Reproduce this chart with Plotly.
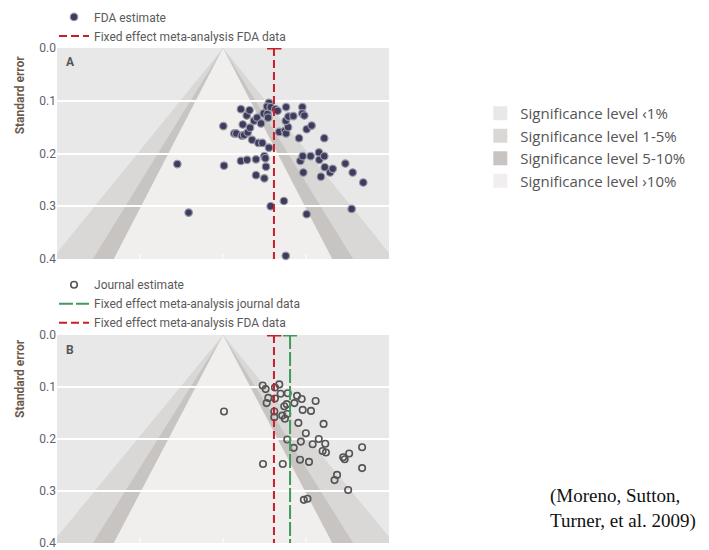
import plotly.graph_objects as go

# ---- Panel A: FDA estimates (effect size, standard error) ----
fda_effect = [-0.275, -0.207, 0.002, 0.006, 0.108, 0.119, 0.068, 0.080, 0.113, 0.127,
              0.149, 0.163, 0.143, 0.160, 0.187, 0.205, 0.229, 0.245, 0.268, 0.272,
              0.277, 0.265, 0.287, 0.315, 0.329, 0.175, 0.213, 0.237, 0.277, 0.108,
              0.145, 0.199, 0.249, 0.255, 0.259, 0.199, 0.249, 0.287, 0.367, 0.378,
              0.384, 0.339, 0.373, 0.380, 0.392, 0.378, 0.394, 0.424, 0.380, 0.478,
              0.478, 0.490, 0.458, 0.504, 0.534, 0.466, 0.480, 0.528, 0.484, 0.504,
              0.578, 0.580, 0.610, 0.610, 0.613, 0.590, 0.645, 0.661, 0.737, 0.781,
              0.845, 0.775]
fda_se = [0.220, 0.312, 0.148, 0.223, 0.116, 0.145, 0.162, 0.162, 0.166, 0.165,
          0.160, 0.151, 0.128, 0.118, 0.138, 0.132, 0.143, 0.124, 0.125, 0.132,
          0.104, 0.111, 0.112, 0.116, 0.119, 0.174, 0.180, 0.180, 0.189, 0.214,
          0.212, 0.211, 0.205, 0.209, 0.225, 0.241, 0.247, 0.300, 0.290, 0.394,
          0.403, 0.159, 0.157, 0.162, 0.150, 0.138, 0.130, 0.129, 0.112, 0.112,
          0.124, 0.128, 0.171, 0.154, 0.147, 0.214, 0.205, 0.205, 0.236, 0.315,
          0.198, 0.212, 0.205, 0.171, 0.226, 0.244, 0.236, 0.229, 0.219, 0.236,
          0.255, 0.305]

# ---- Panel B: journal estimates ----
jour_effect = [0.006, 0.239, 0.257, 0.263, 0.273, 0.313, 0.339, 0.313, 0.347, 0.390,
               0.309, 0.309, 0.357, 0.373, 0.369, 0.384, 0.387, 0.430, 0.446, 0.474,
               0.480, 0.530, 0.558, 0.454, 0.606, 0.387, 0.499, 0.469, 0.426, 0.540,
               0.577, 0.616, 0.600, 0.620, 0.241, 0.360, 0.464, 0.518, 0.724, 0.733,
               0.760, 0.838, 0.838, 0.687, 0.672, 0.754, 0.487, 0.509]
jour_se = [0.147, 0.097, 0.104, 0.131, 0.121, 0.101, 0.095, 0.122, 0.113, 0.112,
           0.147, 0.158, 0.155, 0.161, 0.137, 0.133, 0.152, 0.131, 0.117, 0.123,
           0.144, 0.146, 0.127, 0.169, 0.171, 0.201, 0.189, 0.205, 0.217, 0.210,
           0.200, 0.209, 0.223, 0.226, 0.248, 0.248, 0.240, 0.244, 0.235, 0.239,
           0.228, 0.216, 0.256, 0.269, 0.279, 0.298, 0.317, 0.315]

# ---- Fixed effect meta-analysis estimates with confidence limits ----
fe_fda = [0.307, 0.265, 0.352]      # estimate, lower, upper
fe_journal = [0.404, 0.361, 0.446]

# ---- Significance contours (two-sided z critical values) ----
sig_labels = ["Significance level \u20391%", "Significance level 1-5%",
              "Significance level 5-10%", "Significance level \u203a10%"]
sig_colors = ["#e9e8e8", "#dad8d7", "#c8c4c2", "#f0efee"]
z_crit = [2.576, 1.960, 1.645]
se_axis = [0.0, 0.1, 0.2, 0.3, 0.4]
se_extent = 0.46

RED = "#c81e2b"
GREEN = "#3f9a5c"
TXT = "#5a5a5a"
FONT = "Roboto"

fig = go.Figure()

panels = [("x", "y"), ("x2", "y2")]

# contour-enhanced funnel bands, painted from widest to narrowest
for xr, yr in panels:
    for z, col in zip(z_crit, sig_colors[1:]):
        half = z * se_extent
        fig.add_shape(type="path", xref=xr, yref=yr, layer="below",
                      path=f"M 0,0 L {-half},{se_extent} L {half},{se_extent} Z",
                      fillcolor=col, line=dict(width=0))

# Panel A points
fig.add_trace(go.Scatter(
    x=fda_effect, y=fda_se, mode="markers", name="FDA estimate",
    marker=dict(symbol="circle", size=7.5, color="#3d3b5e",
                line=dict(width=1.2, color="#9898a6")),
    xaxis="x", yaxis="y", legend="legend", cliponaxis=False))


def fe_traces(est, name, color, dash, xa, ya, legend, show):
    fig.add_trace(go.Scatter(
        x=[est[0], est[0]], y=[se_axis[0], se_axis[-1]], mode="lines", name=name,
        line=dict(color=color, width=2, dash=dash),
        xaxis=xa, yaxis=ya, legend=legend, showlegend=show, cliponaxis=False))
    fig.add_trace(go.Scatter(
        x=[est[1], est[2]], y=[se_axis[0], se_axis[0]], mode="lines",
        line=dict(color=color, width=3), hoverinfo="skip",
        xaxis=xa, yaxis=ya, showlegend=False, cliponaxis=False))


fe_traces(fe_fda, "Fixed effect meta-analysis FDA data", RED, "8px,4px",
          "x", "y", "legend", True)

# Panel B points
fig.add_trace(go.Scatter(
    x=jour_effect, y=jour_se, mode="markers", name="Journal estimate",
    marker=dict(symbol="circle-open", size=6.5, color="#555555",
                line=dict(width=1.6, color="#555555")),
    xaxis="x2", yaxis="y2", legend="legend2", cliponaxis=False))

fe_traces(fe_journal, "Fixed effect meta-analysis journal data", GREEN, "14px,3px",
          "x2", "y2", "legend2", True)
fe_traces(fe_fda, "Fixed effect meta-analysis FDA data", RED, "8px,4px",
          "x2", "y2", "legend2", True)

# significance legend swatches
for lab, col in zip(sig_labels, sig_colors):
    fig.add_trace(go.Scatter(
        x=[None], y=[None], mode="markers", name=lab,
        marker=dict(symbol="square", size=14, color=col, line=dict(width=0)),
        xaxis="x", yaxis="y", legend="legend3"))

axis_x = dict(range=[-1, 1], showgrid=False, zeroline=False, showticklabels=False,
              tickvals=[-0.5, 0, 0.5], ticks="inside", ticklen=5, tickwidth=1.5,
              tickcolor="#f7f7f7", showline=False, fixedrange=True)
axis_y = dict(range=[se_axis[-1], se_axis[0]], tickvals=se_axis, tickformat=".1f",
              showgrid=True, gridcolor="#ffffff", gridwidth=1.5, zeroline=False,
              tickfont=dict(family=FONT, size=12, color="#5e6171"),
              ticklabeloverflow="allow",
              ticks="", showline=False, fixedrange=True)

leg_font = dict(family=FONT, size=12, color=TXT)
title_font = dict(family=FONT, size=12, color="#6b5a4c")
letter_font = dict(family=FONT, size=12, color="#555555")

fig.update_layout(
    width=709, height=550,
    margin=dict(l=57, r=320, t=48, b=7, autoexpand=False),
    paper_bgcolor="#ffffff", plot_bgcolor=sig_colors[0],
    xaxis=dict(axis_x, domain=[0, 1], anchor="y"),
    yaxis=dict(axis_y, domain=[0.5737, 1.0], anchor="x"),
    xaxis2=dict(axis_x, domain=[0, 1], anchor="y2"),
    yaxis2=dict(axis_y, domain=[0.0, 0.4202], anchor="x2"),
    legend=dict(x=-0.009, y=1.092, xanchor="left", yanchor="top", font=leg_font,
                bgcolor="rgba(0,0,0,0)", tracegroupgap=0, itemwidth=30),
    legend2=dict(x=-0.009, y=0.551, xanchor="left", yanchor="top", font=leg_font,
                 bgcolor="rgba(0,0,0,0)", tracegroupgap=0, itemwidth=30),
    legend3=dict(x=1.275, y=0.901, xanchor="left", yanchor="top",
                 font=dict(family="Open Sans", size=15, color="#555555"),
                 bgcolor="rgba(0,0,0,0)", tracegroupgap=0, itemwidth=30),
    showlegend=True,
    annotations=[
        dict(text="<b>Standard error</b>", textangle=-90, xref="paper", yref="paper",
             x=-0.112, y=0.906, xanchor="center", yanchor="middle",
             showarrow=False, font=title_font),
        dict(text="<b>Standard error</b>", textangle=-90, xref="paper", yref="paper",
             x=-0.112, y=0.333, xanchor="center", yanchor="middle",
             showarrow=False, font=title_font),
        dict(text="<b>A</b>", xref="paper", yref="paper", x=0.02, y=0.9717,
             xanchor="left", yanchor="middle", showarrow=False, font=letter_font),
        dict(text="<b>B</b>", xref="paper", yref="paper", x=0.02, y=0.3899,
             xanchor="left", yanchor="middle", showarrow=False, font=letter_font),
        dict(text="(Moreno, Sutton,<br>Turner, et al. 2009)", xref="paper", yref="paper",
             x=1.479, y=0.122, xanchor="left", yanchor="top", align="left",
             showarrow=False,
             font=dict(family="Liberation Serif", size=19, color="#111111")),
    ],
)

fig.write_html("out.html")
